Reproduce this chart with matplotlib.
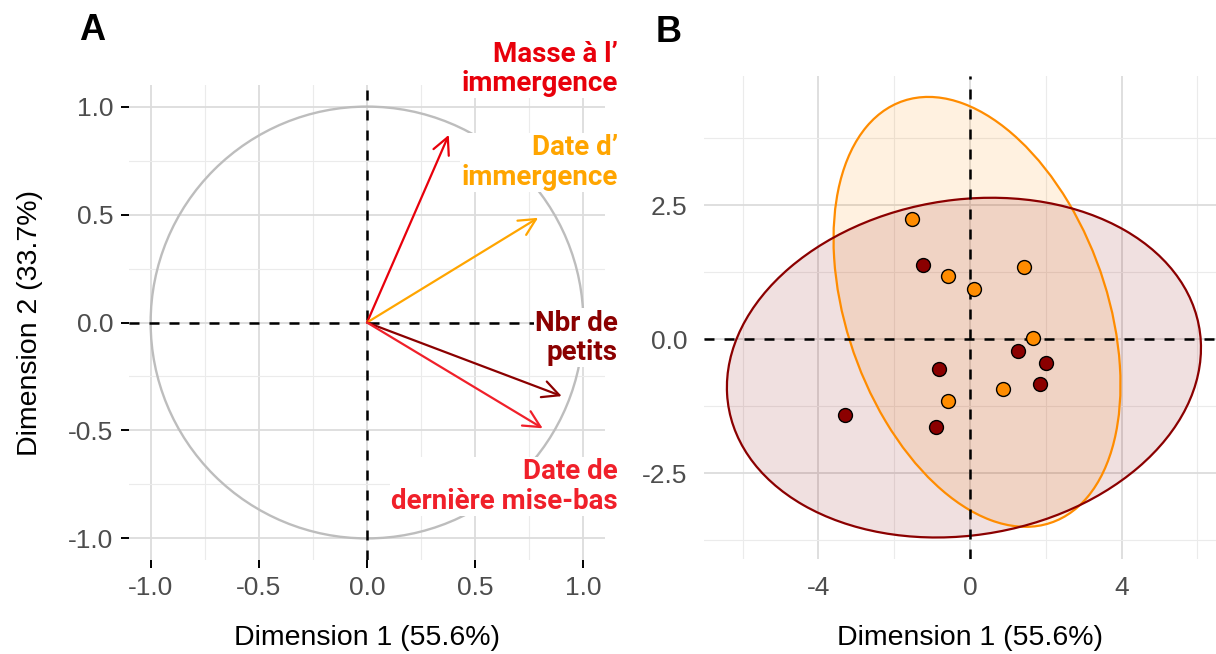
import numpy as np
import matplotlib.pyplot as plt
from matplotlib.patches import Circle, Ellipse

plt.rcParams.update({
    "font.family": ["Liberation Sans", "DejaVu Sans"],
    "axes.unicode_minus": False,
})

# ---- Panel A: variable loadings ----
var_labels = ["Masse à l’\nimmergence", "Date d’\nimmergence", "Nbr de\npetits",
              "Date de\ndernière mise-bas"]
var_dim1 = [0.378, 0.791, 0.900, 0.812]
var_dim2 = [0.869, 0.485, -0.341, -0.490]
var_colors = ["#e8000b", "#ffa500", "#8b0000", "#f0202a"]
label_y = [1.175, 0.742, -0.071, -0.759]

# ---- Panel B: individuals ----
grp1_dim1 = [-1.53, -0.59, 0.11, 1.43, 1.65, 0.88, -0.59]
grp1_dim2 = [2.24, 1.18, 0.94, 1.35, 0.03, -0.93, -1.16]
grp2_dim1 = [-1.24, 1.26, 2.00, -0.81, 1.86, -3.30, -0.91]
grp2_dim2 = [1.38, -0.22, -0.44, -0.56, -0.83, -1.41, -1.64]

# confidence ellipses: center, full width, full height, angle (deg)
ell_center = [(0.185, 0.51), (-0.16, -0.53)]
ell_width = [9.04, 12.54]
ell_height = [6.32, 6.28]
ell_angle = [-49.8, 4.5]
grp_colors = ["#ff8c00", "#8b0000"]

W, H = 1216, 654
fig = plt.figure(figsize=(W / 100, H / 100), dpi=100)

tick_color = "#4d4d4d"
tick_size = 19
title_size = 20.5
major_grid = dict(color="#dcdcdc", linewidth=1.3)
minor_grid = dict(color="#ebebeb", linewidth=0.8)

# ================= Panel A =================
axA = fig.add_axes([129 / W, (H - 560) / H, 476 / W, 475 / H])
axA.set_xlim(-1.1, 1.1)
axA.set_ylim(-1.1, 1.1)
for s in axA.spines.values():
    s.set_visible(False)
ticksA = [-1.0, -0.5, 0.0, 0.5, 1.0]
axA.set_xticks(ticksA, [f"{t:.1f}" for t in ticksA])
axA.set_yticks(ticksA, [f"{t:.1f}" for t in ticksA])
axA.set_xticks([-0.75, -0.25, 0.25, 0.75], minor=True)
axA.set_yticks([-0.75, -0.25, 0.25, 0.75], minor=True)
axA.tick_params(which="major", length=5.5, width=1.4, color="black",
                labelsize=tick_size, labelcolor=tick_color, pad=6)
axA.tick_params(which="minor", length=0)
axA.grid(True, which="major", **major_grid)
axA.grid(True, which="minor", **minor_grid)
axA.set_axisbelow(True)

axA.add_patch(Circle((0, 0), 1, fill=False, edgecolor="#bdbdbd", linewidth=1.7, zorder=2))
axA.axhline(0, color="black", linestyle=(0, (4, 4)), linewidth=1.8, zorder=3)
axA.axvline(0, color="black", linestyle=(0, (4, 4)), linewidth=1.8, zorder=3)

for x, y, c in zip(var_dim1, var_dim2, var_colors):
    axA.annotate("", xy=(x, y), xytext=(0, 0),
                 arrowprops=dict(arrowstyle="->,head_length=0.6,head_width=0.3",
                                 color=c, lw=1.6, shrinkA=0, shrinkB=0,
                                 mutation_scale=20), zorder=4)

for lab, y, c in zip(var_labels, label_y, var_colors):
    axA.text(1.16, y, lab, color=c, fontsize=20, fontweight="bold",
             family=["Roboto", "DejaVu Sans"], ha="right", va="center",
             multialignment="right", linespacing=1.12, clip_on=False, zorder=5,
             bbox=dict(facecolor="white", edgecolor="none", pad=1.0))

axA.set_xlabel("Dimension 1 (55.6%)", fontsize=title_size, labelpad=18)
axA.set_ylabel("Dimension 2 (33.7%)", fontsize=title_size, labelpad=18)
fig.text(92 / W, 1 - 31 / H, "A", fontsize=26, fontweight="bold",
         ha="center", va="center")

# ================= Panel B =================
axB = fig.add_axes([704 / W, (H - 559) / H, 532 / W, 483 / H])
axB.set_xlim(-7.02, 7.02)
axB.set_ylim(-4.10, 4.91)
for s in axB.spines.values():
    s.set_visible(False)
axB.set_xticks([-4, 0, 4], ["-4", "0", "4"])
axB.set_yticks([-2.5, 0.0, 2.5], ["-2.5", "0.0", "2.5"])
axB.set_xticks([-6, -2, 2, 6], minor=True)
axB.set_yticks([-3.75, -1.25, 1.25, 3.75], minor=True)
axB.tick_params(which="major", length=0, labelsize=tick_size, labelcolor=tick_color, pad=12)
axB.tick_params(which="minor", length=0)
axB.grid(True, which="major", **major_grid)
axB.grid(True, which="minor", **minor_grid)
axB.set_axisbelow(True)

for cen, w, h, a, c in zip(ell_center, ell_width, ell_height, ell_angle, grp_colors):
    axB.add_patch(Ellipse(cen, w, h, angle=a, facecolor=c, alpha=0.12,
                          edgecolor="none", zorder=1))
    axB.add_patch(Ellipse(cen, w, h, angle=a, fill=False, edgecolor=c,
                          linewidth=1.6, zorder=2))

axB.axhline(0, color="black", linestyle=(0, (4, 4)), linewidth=1.8, zorder=3)
axB.axvline(0, color="black", linestyle=(0, (4, 4)), linewidth=1.8, zorder=3)

axB.scatter(grp1_dim1, grp1_dim2, s=100, color=grp_colors[0], edgecolor="black",
            linewidth=1.0, zorder=4)
axB.scatter(grp2_dim1, grp2_dim2, s=100, color=grp_colors[1], edgecolor="black",
            linewidth=1.0, zorder=4)

axB.set_xlabel("Dimension 1 (55.6%)", fontsize=title_size, labelpad=18)
fig.text(669 / W, 1 - 33 / H, "B", fontsize=26, fontweight="bold",
         ha="center", va="center")

fig.savefig("out.png", dpi=100)
